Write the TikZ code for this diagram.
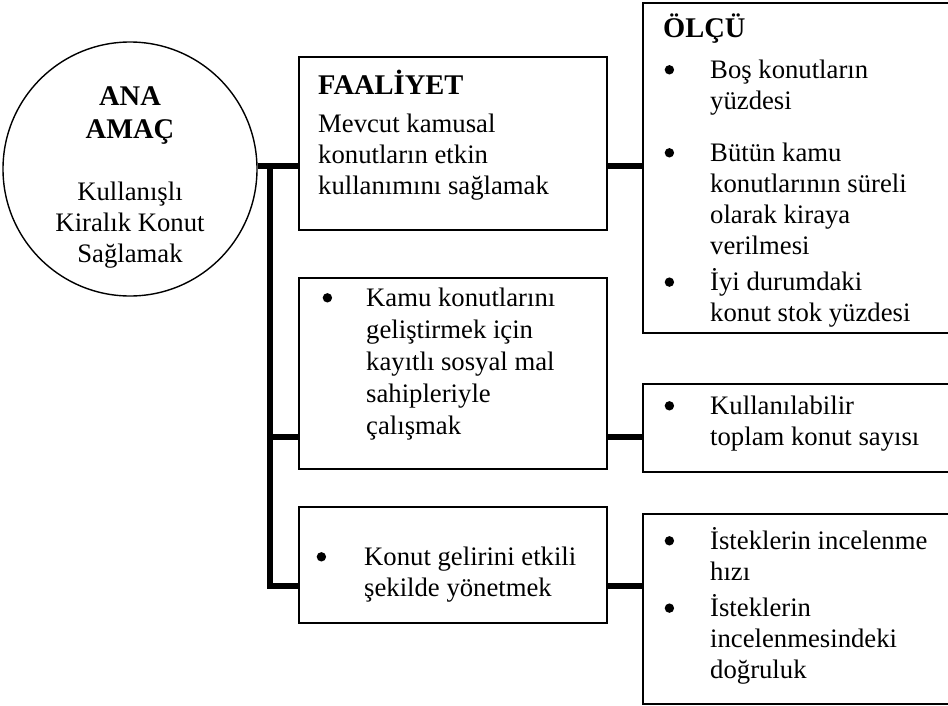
\documentclass[tikz,border=0pt]{standalone}
\usepackage{fontspec}
\setmainfont{Liberation Serif}

\newcommand{\hdr}[1]{{\fontsize{28.5}{31}\selectfont\bfseries #1}}
\newcommand{\blt}{\hspace{1.5pt}\raisebox{3.5pt}{\tikz\fill (0,0) circle (4.7pt);}}

\begin{document}
\begin{tikzpicture}[x=1pt, y=-1pt,
    box/.style={draw, line width=1.7pt, anchor=north west, inner sep=0pt},
    conn/.style={line width=5.5pt},
    txt/.style={inner sep=0pt, anchor=base west, font=\fontsize{26.7}{31}\selectfont}]
    \clip (0,0) rectangle (948,705);

    % Main goal circle
    \node[draw, circle, line width=1.4pt, minimum size=254pt, inner sep=0pt] (goal) at (130,169) {};
    \node[txt, anchor=base] (goaltxt) at (130,105) {\begin{tabular}[t]{@{}c@{}}
        \hdr{ANA}\\[2pt] \hdr{AMAÇ}\\[31pt] Kullanışlı\\ Kiralık Konut\\ Sağlamak\end{tabular}};

    % Activity boxes
    \node[box, minimum width=308pt, minimum height=173pt] (act1) at (298,56) {};
    \node[box, minimum width=308pt, minimum height=191pt] (act2) at (298,277) {};
    \node[box, minimum width=308pt, minimum height=116pt] (act3) at (298,506) {};

    \node[txt] (act1txt) at (318,94) {\begin{tabular}[t]{@{}l@{}}
        \hdr{FAALİYET}\\[7pt] Mevcut kamusal\\ konutların etkin\\ kullanımını sağlamak\end{tabular}};
    \node[txt, font=\fontsize{26.7}{32}\selectfont] (act2txt) at (321,306) {\begin{tabular}[t]{@{}p{45pt}@{}l@{}}
        \blt & Kamu konutlarını\\ & geliştirmek için\\ & kayıtlı sosyal mal\\ & sahipleriyle\\ & çalışmak\end{tabular}};
    \node[txt] (act3txt) at (315,565) {\begin{tabular}[t]{@{}p{49pt}@{}l@{}}
        \blt & Konut gelirini etkili\\ & şekilde yönetmek\end{tabular}};

    % Measure boxes
    \node[box, minimum width=320pt, minimum height=330pt] (olcu) at (642,2) {};
    \node[box, minimum width=320pt, minimum height=88pt] (meas2) at (642,383) {};
    \node[box, minimum width=320pt, minimum height=190pt] (meas3) at (642,513) {};

    \node[txt] (olcutxt) at (663,37) {\begin{tabular}[t]{@{}p{47pt}@{}l@{}}
        \multicolumn{2}{@{}l@{}}{\hdr{ÖLÇÜ}}\\[10pt]
        \blt & Boş konutların\\ & yüzdesi\\[21pt]
        \blt & Bütün kamu\\ & konutlarının süreli\\ & olarak kiraya\\ & verilmesi\\[5pt]
        \blt & İyi durumdaki\\ & konut stok yüzdesi\end{tabular}};
    \node[txt] (meas2txt) at (663,414) {\begin{tabular}[t]{@{}p{47pt}@{}l@{}}
        \blt & Kullanılabilir\\ & toplam konut sayısı\end{tabular}};
    \node[txt] (meas3txt) at (663,549) {\begin{tabular}[t]{@{}p{47pt}@{}l@{}}
        \blt & İsteklerin incelenme\\ & hızı\\[5pt]
        \blt & İsteklerin\\ & incelenmesindeki\\ & doğruluk\end{tabular}};

    % Connectors
    \coordinate (j1) at (270,166);
    \coordinate (j2) at (270,437);
    \coordinate (j3) at (270,586);
    \draw[conn] (goal.east |- j1) -- (act1.west |- j1);
    \draw[conn] (j1) -- (j3) -- (act3.west |- j3);
    \draw[conn] (j2) -- (act2.west |- j2);
    \draw[conn] (act1.east |- j1) -- (olcu.west |- j1);
    \draw[conn] (act2.east |- j2) -- (meas2.west |- j2);
    \draw[conn] (act3.east |- j3) -- (meas3.west |- j3);
\end{tikzpicture}
\end{document}
